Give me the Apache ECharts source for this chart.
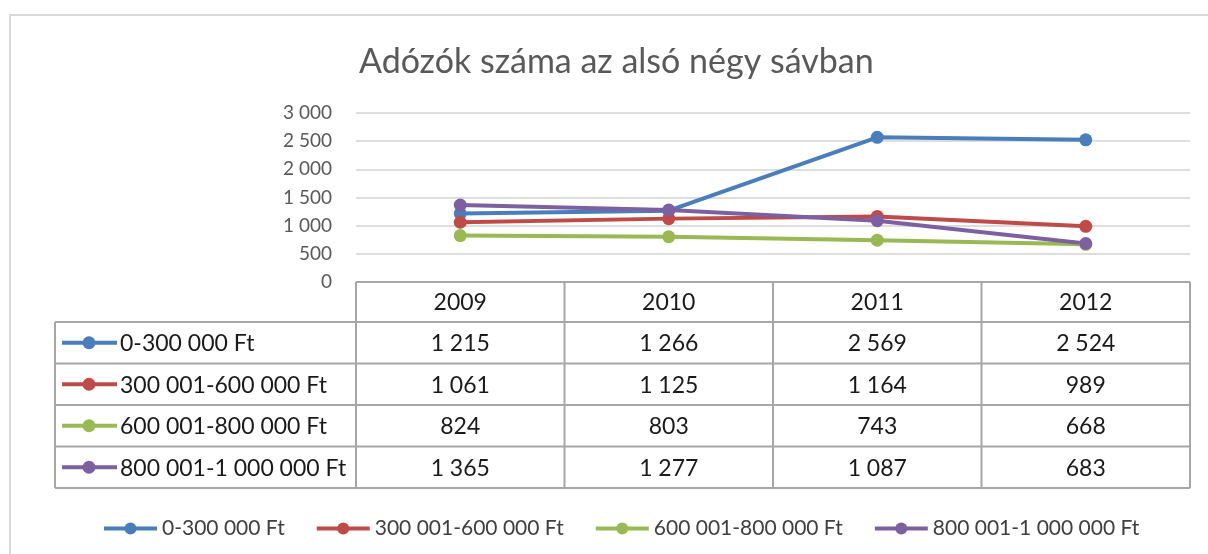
<!DOCTYPE html>
<html>
<head>
<meta charset="utf-8">
<script src="https://cdn.jsdelivr.net/npm/echarts@6/dist/echarts.min.js"></script>
<style>
  html, body { margin: 0; padding: 0; background: #fff; }
  #chart { width: 1208px; height: 554px; }
</style>
</head>
<body>
<div id="chart"></div>
<script>
// adatok
const years = ["2009", "2010", "2011", "2012"];
const bandNames = ["0-300 000 Ft", "300 001-600 000 Ft", "600 001-800 000 Ft", "800 001-1 000 000 Ft"];
const band1 = [1215, 1266, 2569, 2524];
const band2 = [1061, 1125, 1164, 989];
const band3 = [824, 803, 743, 668];
const band4 = [1365, 1277, 1087, 683];
const yTicks = [0, 500, 1000, 1500, 2000, 2500, 3000];
const colors = ["#4A7EBB", "#BE4B48", "#98B954", "#7D60A0"];

const bands = [band1, band2, band3, band4];
const FONT = "Lato";

function fmt(n) {
  return String(n).replace(/\B(?=(\d{3})+(?!\d))/g, " ");
}

const chart = echarts.init(document.getElementById("chart"));

chart.setOption({
  backgroundColor: "#fff",
  color: colors,
  title: {
    text: "Adózók száma az alsó négy sávban",
    left: 354,
    top: 40,
    textStyle: {
      fontFamily: FONT,
      fontWeight: "normal",
      fontSize: 34,
      color: "#595959",
    },
  },
  legend: {
    left: 97,
    top: 513,
    itemWidth: 53,
    itemHeight: 15,
    itemGap: 30,
    lineStyle: { width: 4 },
    textStyle: {
      fontFamily: FONT,
      fontSize: 21,
      color: "#404040",
    },
    data: bandNames,
  },
  grid: {
    left: 356,
    right: 18,
    top: 113,
    bottom: 272,
  },
  xAxis: {
    type: "category",
    data: years,
    boundaryGap: true,
    axisLine: { show: false },
    axisTick: { show: false },
    axisLabel: { show: false },
  },
  yAxis: {
    type: "value",
    min: yTicks[0],
    max: yTicks[yTicks.length - 1],
    interval: yTicks[1] - yTicks[0],
    axisLine: { show: false },
    axisTick: { show: false },
    axisLabel: {
      margin: 24,
      fontFamily: FONT,
      fontSize: 19,
      color: "#595959",
      formatter: (v) => fmt(v),
    },
    splitLine: {
      lineStyle: { color: "#dedede", width: 2 },
    },
  },
  series: bands.map((d, i) => ({
    name: bandNames[i],
    type: "line",
    data: d,
    symbol: "circle",
    symbolSize: 13,
    lineStyle: { width: 4 },
    itemStyle: { color: colors[i] },
  })),
});

// adattábla a diagram alatt
function drawTable() {
  const xs = years.map((y) => chart.convertToPixel({ xAxisIndex: 0 }, y));
  const band = xs[1] - xs[0];
  const top = chart.convertToPixel({ yAxisIndex: 0 }, 0);
  const headerH = 40;
  const rowH = 41.5;
  const labelLeft = 55;
  const leftEdge = xs[0] - band / 2;
  const rightEdge = xs[xs.length - 1] + band / 2;
  const bottom = top + headerH + rowH * bands.length;
  const lineStyle = { stroke: "#a6a6a6", lineWidth: 2 };
  const els = [];

  // keret
  els.push({
    type: "rect",
    silent: true,
    shape: { x: 10, y: 15, width: 1400, height: 700 },
    style: { fill: null, stroke: "#d9d9d9", lineWidth: 2 },
    z: 0,
  });

  // vízszintes vonalak
  els.push({ type: "line", shape: { x1: leftEdge, y1: top, x2: rightEdge, y2: top }, style: lineStyle });
  for (let r = 0; r <= bands.length; r++) {
    const y = top + headerH + r * rowH;
    els.push({ type: "line", shape: { x1: labelLeft, y1: y, x2: rightEdge, y2: y }, style: lineStyle });
  }
  // függőleges vonalak
  els.push({ type: "line", shape: { x1: labelLeft, y1: top + headerH, x2: labelLeft, y2: bottom }, style: lineStyle });
  for (let c = 0; c <= years.length; c++) {
    const x = leftEdge + c * band;
    els.push({ type: "line", shape: { x1: x, y1: top, x2: x, y2: bottom }, style: lineStyle });
  }

  const txt = { fontFamily: FONT, fontSize: 23, fill: "#1a1a1a" };
  // fejléc
  years.forEach((y, c) => {
    els.push({
      type: "text",
      style: Object.assign({ text: y, x: xs[c], y: top + headerH / 2 + 1, align: "center", verticalAlign: "middle" }, txt),
    });
  });
  // sorok
  bands.forEach((d, r) => {
    const cy = top + headerH + r * rowH + rowH / 2;
    els.push({ type: "line", shape: { x1: 62, y1: cy, x2: 117, y2: cy }, style: { stroke: colors[r], lineWidth: 4 } });
    els.push({ type: "circle", shape: { cx: 89, cy: cy, r: 6.5 }, style: { fill: colors[r] } });
    els.push({
      type: "text",
      style: Object.assign({ text: bandNames[r], x: 120, y: cy + 1, align: "left", verticalAlign: "middle" }, txt),
    });
    d.forEach((v, c) => {
      els.push({
        type: "text",
        style: Object.assign({ text: fmt(v), x: xs[c], y: cy + 1, align: "center", verticalAlign: "middle" }, txt),
      });
    });
  });

  chart.setOption({ graphic: { elements: els } });
}

drawTable();
</script>
</body>
</html>
